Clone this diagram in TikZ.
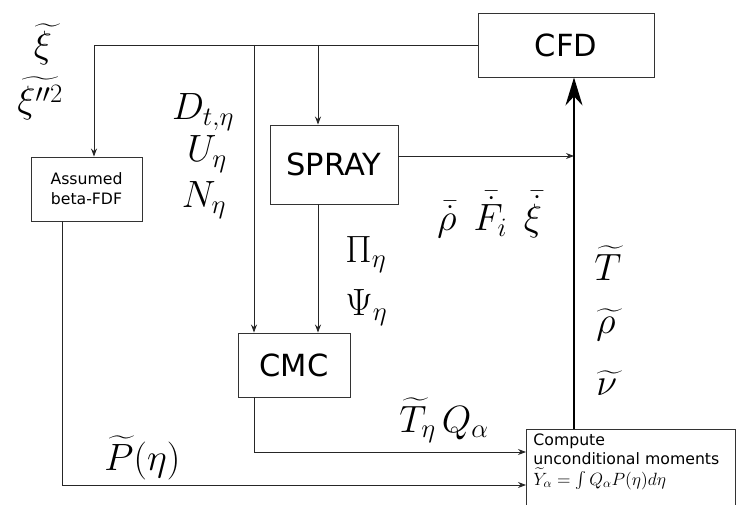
\RequirePackage{fix-cm}
\documentclass[tikz,border=0pt]{standalone}
\usepackage{amsmath}
\usepackage{exscale}
\usepackage{fontspec}
\setsansfont{DejaVu Sans}
\usetikzlibrary{arrows.meta}
\newcommand\wtl[1]{\rlap{$\widetilde{\vphantom{#1}\hphantom{T}}$}#1}

\begin{document}
\begin{tikzpicture}[x=1pt,y=-1pt,>={Stealth[length=8pt,width=6pt]},
    line width=0.9pt,
    box/.style={draw=black!80,inner sep=0pt,font=\sffamily\fontsize{30.5}{36}\selectfont},
    smallbox/.style={draw=black!80,inner sep=0pt,font=\sffamily\fontsize{15.7}{20}\selectfont,align=center},
    lbl/.style={inner sep=0pt,anchor=base,font=\fontsize{38}{42}\selectfont},
    lblw/.style={lbl,anchor=base west},
    flow/.style={draw=black!85,->}]
        \useasboundingbox (0,0) rectangle (739,505);
        \clip (0,0) rectangle (739,505);
        % boxes
        \node[box,minimum width=176,minimum height=64] (cfd) at (566,45) {CFD};
        \node[box,minimum width=128,minimum height=79] (spray) at (334,164.5) {SPRAY};
        \node[smallbox,minimum width=111,minimum height=64] (asm) at (86.5,189) {Assumed\\beta-FDF};
        \node[box,minimum width=112,minimum height=64] (cmc) at (294,365) {CMC};
        \node[anchor=north west,text width=195,inner xsep=7,inner ysep=4,align=left,
              font=\sffamily\fontsize{15.7}{19.5}\selectfont] (comp) at (526,429)
              {Compute\\unconditional moments\\[1pt]
               \scalebox{1.13}{$\widetilde{Y}_\alpha=\int Q_\alpha P(\eta)d\eta$}};
        \draw[draw=black!80] (comp.north west) rectangle (comp.east |- 0,520);
        % entry points
        \coordinate (sprin) at ([xshift=-16]spray.north);
        \coordinate (cmcl) at ([xshift=-40]cmc.north);
        \coordinate (cmcr) at ([xshift=24]cmc.north);
        \coordinate (up) at ([xshift=48]comp.north west);
        % connectors
        \draw[flow] (cfd.west) -| ([xshift=7.5]asm.north);
        \draw[flow] (cmcl |- cfd.west) -- (cmcl);
        \draw[flow] (sprin |- cfd.west) -- (sprin);
        \draw[flow] (cmcr |- spray.south) -- (cmcr);
        \draw[flow] ([yshift=8.5]spray.east) -- ([yshift=8.5]spray.east -| up);
        \draw[flow] ([xshift=-40]cmc.south) |- ([yshift=-23]comp.north west);
        \draw[flow] ([xshift=-24.5]asm.south) |- ([yshift=-56]comp.north west);
        \draw[line width=2pt,-{Stealth[length=28pt,width=17pt]}] (up) -- (up |- cfd.south);
        % labels
        \node[lbl] (xit) at (43,58) {$\wtl{\xi}$};
        \node[lbl] (xiv) at (40,113) {$\widetilde{\xi''^2}$};
        \node[lbl] (dt) at (203,120) {$D_{t,\eta}$};
        \node[lbl] (ue) at (207,162) {$U_\eta$};
        \node[lbl] (ne) at (204,208) {$N_\eta$};
        \node[lblw] (pie) at (345,262) {$\Pi_\eta$};
        \node[lblw] (psie) at (345,315) {$\Psi_\eta$};
        \node[lblw] (src) at (437,231) {$\bar{\dot{\rho}}\;\,\bar{\dot{F}}_i\;\,\bar{\dot{\xi}}$};
        \node[lblw] (tt) at (594,280) {$\widetilde{T}$};
        \node[lblw] (rhot) at (596,333) {$\wtl{\rho}$};
        \node[lblw] (nut) at (596,395) {$\wtl{\nu}$};
        \node[lblw] (tq) at (399,432) {$\widetilde{T}_\eta\,Q_\alpha$};
        \node[lblw] (pe) at (104,470) {$\widetilde{P}(\eta)$};
\end{tikzpicture}
\end{document}
